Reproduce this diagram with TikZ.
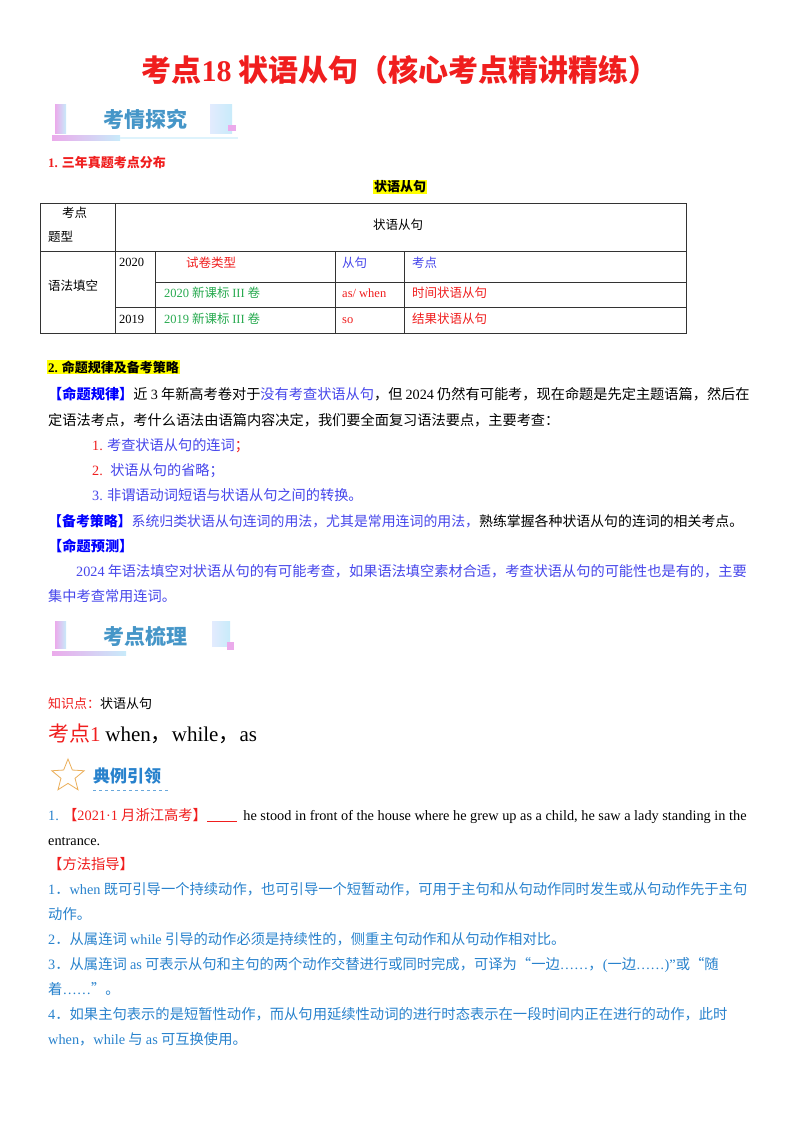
\documentclass[tikz,border=0pt]{standalone}
\usepackage{fontspec}
\setmainfont{Noto Sans CJK SC}
\newfontfamily\en{Liberation Serif}
\usetikzlibrary{shapes.geometric}
\definecolor{tred}{RGB}{240,30,30}
\definecolor{sblue}{RGB}{70,70,235}
\definecolor{mblue}{RGB}{40,130,205}
\definecolor{tgreen}{RGB}{40,170,80}
\definecolor{bann}{RGB}{70,150,200}
\definecolor{bpink}{RGB}{235,170,235}
\definecolor{bcyan}{RGB}{200,235,250}
\definecolor{hyel}{RGB}{255,255,0}
\definecolor{staror}{RGB}{235,175,90}
\tikzset{
 txt/.style={anchor=base west,inner sep=0,font=\fontsize{14.2}{15}\selectfont},
 small/.style={anchor=base west,inner sep=0,font=\fontsize{12.5}{13}\selectfont},
 mid/.style={anchor=base west,inner sep=0,font=\fontsize{14.3}{15}\selectfont},
 tline/.style={line width=0.8pt,black!80},
}
\newcommand{\E}[1]{{\en #1}}
\begin{document}
\begin{tikzpicture}[x=1pt,y=-1pt]
\useasboundingbox (0,0) rectangle (800,1132);
\fill[white] (0,0) rectangle (800,1132);
% title
\node[inner sep=0,text=tred,font=\fontsize{30}{31}\bfseries\selectfont] (title) at (400,70) {考点\E{\textbf{18}} 状语从句（核心考点精讲精练）};
% banner 1
\shade[left color=bpink,right color=bcyan] (55,104) rectangle (66,133);
\shade[left color=bcyan!80!blue!30,right color=bcyan] (210,104) rectangle (232,133);
\fill[bpink] (228,125) rectangle (236,131);
\shade[left color=bpink,right color=bcyan] (52,135) rectangle (120,140);
\fill[bcyan!60] (120,137) rectangle (238,139);
\node[inner sep=0,text=bann,font=\fontsize{21}{21}\bfseries\selectfont] (ban1) at (145,119) {考情探究};
\node[small,text=tred,font=\fontsize{13}{13}\bfseries\selectfont] (s1) at (48,167) {\E{\textbf{1.}} 三年真题考点分布};
\node[inner sep=1pt,fill=hyel,font=\fontsize{13}{13}\bfseries\selectfont] (thd) at (400,187) {状语从句};
% table
\draw[tline] (40,203) rectangle (686,333);
\draw[tline] (115,203) -- (115,333);
\draw[tline] (40,251) -- (686,251);
\draw[tline] (155,251) -- (155,333);
\draw[tline] (335,251) -- (335,333);
\draw[tline] (404,251) -- (404,333);
\draw[tline] (155,282) -- (686,282);
\draw[tline] (115,307) -- (686,307);
\node[small] (c1) at (62,217) {考点};
\node[small] (c2) at (48,241) {题型};
\node[small] (c3) at (373,229) {状语从句};
\node[small] (c4) at (48,290) {语法填空};
\node[small] (c5) at (119,266) {\E{2020}};
\node[small] (c6) at (119,323) {\E{2019}};
\node[small,text=tred] (c7) at (186,267) {试卷类型};
\node[small,text=sblue] (c8) at (342,267) {从句};
\node[small,text=sblue] (c9) at (412,267) {考点};
\node[small,text=tgreen] (c10) at (164,297) {\E{2020} 新课标 \E{III} 卷};
\node[small,text=tred] (c11) at (342,297) {\E{as/ when}};
\node[small,text=tred] (c12) at (412,297) {时间状语从句};
\node[small,text=tgreen] (c13) at (164,323) {\E{2019} 新课标 \E{III} 卷};
\node[small,text=tred] (c14) at (342,323) {\E{so}};
\node[small,text=tred] (c15) at (412,323) {结果状语从句};
% section 2
\node[anchor=base west,inner sep=1pt,fill=hyel,font=\fontsize{13}{13}\bfseries\selectfont] (s2) at (47,372) {\E{\textbf{2.}} 命题规律及备考策略};
\node[txt] (l1) at (48,399) {\textcolor{blue}{\bfseries【命题规律】}近 \E{3} 年新高考卷对于\textcolor{sblue}{没有考查状语从句}，但 \E{2024} 仍然有可能考，现在命题是先定主题语篇，然后在};
\node[txt] (l2) at (48,425) {定语法考点，考什么语法由语篇内容决定，我们要全面复习语法要点，主要考查：};
\node[txt] (l3) at (92,450) {\textcolor{tred}{\E{1.}} \textcolor{sblue}{考查状语从句的连词}\textcolor{tred}{；}};
\node[txt] (l4) at (92,475) {\textcolor{tred}{\E{2.}} \ \textcolor{sblue}{状语从句的省略；}};
\node[txt,text=sblue] (l5) at (92,500) {\E{3.} 非谓语动词短语与状语从句之间的转换。};
\node[txt,font=\fontsize{13.9}{15}\selectfont] (l6) at (48,526) {\textcolor{blue}{\bfseries【备考策略】}\textcolor{sblue}{系统归类状语从句连词的用法，尤其是常用连词的用法，}熟练掌握各种状语从句的连词的相关考点。};
\node[txt,text=blue,font=\fontsize{14.2}{15}\bfseries\selectfont] (l7) at (48,551) {【命题预测】};
\node[txt,text=sblue] (l8) at (76,576) {\E{2024} 年语法填空对状语从句的有可能考查，如果语法填空素材合适，考查状语从句的可能性也是有的，主要};
\node[txt,text=sblue] (l9) at (48,601) {集中考查常用连词。};
% banner 2
\shade[left color=bpink,right color=bcyan] (55,621) rectangle (66,648);
\shade[left color=bcyan!80!blue!30,right color=bcyan] (212,621) rectangle (230,646);
\fill[bpink] (227,642) rectangle (234,650);
\shade[left color=bpink,right color=bcyan] (52,651) rectangle (126,655);
\node[inner sep=0,text=bann,font=\fontsize{21}{21}\bfseries\selectfont] (ban2) at (145,636) {考点梳理};
\node[small,font=\fontsize{13}{13}\selectfont] (k1) at (48,708) {\textcolor{tred}{知识点：}状语从句};
\node[anchor=base west,inner sep=0,font=\fontsize{21}{22}\selectfont] (k2) at (48,741) {\textcolor{tred}{考点\E{1}} \E{when}，\E{while}，\E{as}};
% example header
\node[star,star points=5,star point ratio=2.3,draw=staror,line width=0.8pt,minimum size=34pt,inner sep=0] (star) at (68,776) {};
\node[inner sep=0,anchor=west,text=mblue,font=\fontsize{17}{17}\bfseries\selectfont] (dl) at (93,776) {典例引领};
\coordinate (u1) at (93,790); \coordinate (u2) at (170,790);
\draw[mblue!70,dashed,line width=0.8pt] (u1) -- (u2);
\node[mid] (e1) at (48,820) {\textcolor{mblue}{\E{1.}} \textcolor{tred}{【\E{2021·1} 月浙江高考】}\textcolor{tred}{\E{\underline{\hspace{30pt}}}} \ \E{he stood in front of the house where he grew up as a child, he saw a lady standing in the}};
\node[mid] (e2) at (48,845) {\E{entrance.}};
\node[mid,text=tred] (e3) at (48,869) {【方法指导】};
\begin{scope}[every node/.style={mid,text=mblue}]
\node (m1) at (48,894) {\E{1}．\E{when} 既可引导一个持续动作，也可引导一个短暂动作，可用于主句和从句动作同时发生或从句动作先于主句};
\node (m2) at (48,919) {动作。};
\node (m3) at (48,944) {\E{2}．从属连词 \E{while} 引导的动作必须是持续性的，侧重主句动作和从句动作相对比。};
\node (m4) at (48,969) {\E{3}．从属连词 \E{as} 可表示从句和主句的两个动作交替进行或同时完成，可译为“一边\E{……}，\E{(}一边\E{……)”}或“随};
\node (m5) at (48,994) {着\E{……}”。};
\node (m6) at (48,1019) {\E{4}．如果主句表示的是短暂性动作，而从句用延续性动词的进行时态表示在一段时间内正在进行的动作，此时};
\node (m7) at (48,1044) {\E{when}，\E{while} 与 \E{as} 可互换使用。};
\end{scope}
\end{tikzpicture}
\end{document}
